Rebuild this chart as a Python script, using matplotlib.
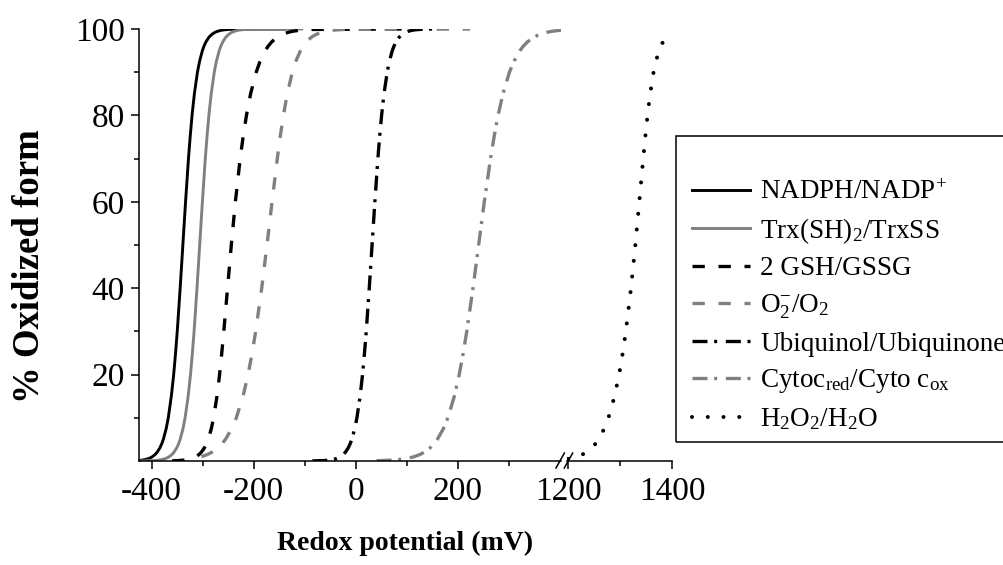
import matplotlib
matplotlib.use("Agg")
import matplotlib.pyplot as plt
from matplotlib.patches import Rectangle
from matplotlib.lines import Line2D

plt.rcParams['font.family'] = ['Liberation Serif', 'DejaVu Serif']
plt.rcParams['mathtext.fontset'] = 'custom'
plt.rcParams['mathtext.rm'] = 'Liberation Serif'
plt.rcParams['mathtext.default'] = 'regular'
plt.rcParams['axes.unicode_minus'] = False

# values: redox potential (mV) vs % oxidized form
nadph_x = [-425, -419.8, -414.5, -407.8, -403.4, -398.7, -393.4, -389.6, -384.2,
           -380.3, -377.3, -371.7, -367.6, -361.6, -357, -353.3, -350, -344.3,
           -339, -333.7, -328, -324.7, -321, -316.4, -310.4, -306.3, -300.7,
           -297.7, -293.8, -288.4, -284.6, -279.3, -274.6, -270.2, -263.5,
           -258.2, -249.2, -233.6, -139]
nadph_y = [0.13, 0.2, 0.3, 0.5, 0.7, 1, 1.5, 2, 3, 4, 5, 7.5, 10, 15, 20, 25, 30,
           40, 50, 60, 70, 75, 80, 85, 90, 92.5, 95, 96, 97, 98, 98.5, 99, 99.3,
           99.5, 99.7, 99.8, 99.9, 99.97, 100]

trx_x = [-425, -395.8, -386.8, -381.5, -374.8, -370.4, -365.7, -360.4, -356.6,
         -351.2, -347.3, -344.3, -338.7, -334.6, -328.6, -324, -320.3, -317,
         -311.3, -306, -300.7, -295, -291.7, -288, -283.4, -277.4, -273.3,
         -267.7, -264.7, -260.8, -255.4, -251.6, -246.3, -241.6, -237.2, -230.5,
         -225.2, -216.2, -200.6, -106]
trx_y = [0.01, 0.1, 0.2, 0.3, 0.5, 0.7, 1, 1.5, 2, 3, 4, 5, 7.5, 10, 15, 20, 25,
         30, 40, 50, 60, 70, 75, 80, 85, 90, 92.5, 95, 96, 97, 98, 98.5, 99,
         99.3, 99.5, 99.7, 99.8, 99.9, 99.97, 100]

gsh_x = [-360, -347.6, -337.2, -331.1, -323.6, -318.6, -313.3, -307.3, -303,
         -297, -292.7, -289.3, -283.2, -278.7, -272.1, -267, -262.7, -258.7,
         -251.4, -244, -236, -226.6, -220.9, -214.3, -206.2, -195.2, -187.7,
         -177.5, -171.9, -164.9, -155.1, -148.2, -138.7, -130.3, -122.5, -110.6,
         -101.2, -85.1, 90]
gsh_y = [0.04, 0.1, 0.2, 0.3, 0.5, 0.7, 1, 1.5, 2, 3, 4, 5, 7.5, 10, 15, 20, 25,
         30, 40, 50, 60, 70, 75, 80, 85, 90, 92.5, 95, 96, 97, 98, 98.5, 99,
         99.3, 99.5, 99.7, 99.8, 99.9, 100]

o2_x = [-302.4, -290.8, -282.5, -270.7, -262.2, -255.5, -243.2, -234.2, -221,
        -211.1, -203.1, -196.2, -184.4, -174, -164.1, -153.8, -148.2, -141.8,
        -134.3, -124.3, -117.6, -108.3, -103.3, -96.9, -87.9, -81.6, -72.6,
        -64.8, -57.4, -46.2, -37.3, -22, 224]
o2_y = [1, 1.5, 2, 3, 4, 5, 7.5, 10, 15, 20, 25, 30, 40, 50, 60, 70, 75, 80, 85,
        90, 92.5, 95, 96, 97, 98, 98.5, 99, 99.3, 99.5, 99.7, 99.8, 99.9, 100]

ubi_x = [-85, -61.2, -51.9, -46.4, -39.5, -34.9, -30, -24.5, -20.5, -14.9, -10.9,
         -7.7, -1.9, 2.3, 8.6, 13.3, 17.2, 20.6, 26.5, 32, 37.5, 43.4, 46.8,
         50.7, 55.4, 61.7, 65.9, 71.7, 74.9, 78.9, 84.5, 88.5, 94, 98.9, 103.5,
         110.4, 115.9, 125.2, 141.5, 160]
ubi_y = [0.02, 0.1, 0.2, 0.3, 0.5, 0.7, 1, 1.5, 2, 3, 4, 5, 7.5, 10, 15, 20, 25,
         30, 40, 50, 60, 70, 75, 80, 85, 90, 92.5, 95, 96, 97, 98, 98.5, 99,
         99.3, 99.5, 99.7, 99.8, 99.9, 99.97, 100]

cyt_x = [41, 51.1, 70.1, 81.3, 95.4, 104.7, 114.6, 125.9, 134, 145.4, 153.6, 160,
         171.9, 180.6, 193.3, 202.9, 210.8, 217.7, 229.9, 241, 252.1, 264.3,
         271.2, 279.1, 288.7, 301.4, 310.1, 322, 328.4, 336.6, 348, 356.1,
         367.4, 377.3, 386.6, 400.7, 410]
cyt_y = [0.07, 0.1, 0.2, 0.3, 0.5, 0.7, 1, 1.5, 2, 3, 4, 5, 7.5, 10, 15, 20, 25,
         30, 40, 50, 60, 70, 75, 80, 85, 90, 92.5, 95, 96, 97, 98, 98.5, 99,
         99.3, 99.5, 99.7, 99.79]

h2o2_x = [1200, 1217.4, 1227.6, 1234.9, 1245.4, 1252.8, 1258.8, 1269.7, 1277.8,
          1289.5, 1298.2, 1305.2, 1311.2, 1321.1, 1329.5, 1337.1, 1344.6, 1348.6,
          1352.9, 1358, 1364.5, 1369, 1375.1, 1378.4, 1382.6, 1388.6, 1392.9,
          1398.9, 1400]
h2o2_y = [0.5, 1, 1.5, 2, 3, 4, 5, 7.5, 10, 15, 20, 25, 30, 40, 50, 60, 70, 75,
          80, 85, 90, 92.5, 95, 96, 97, 98, 98.5, 99, 99.1]

labels = ['NADPH/NADP$^{+}$', 'Trx(SH)$_{2}$/TrxSS', '2 GSH/GSSG',
          'O$_{2}^{-}$/O$_{2}$', 'Ubiquinol/Ubiquinone',
          'Cytoc$_{red}$/Cyto c$_{ox}$', 'H$_{2}$O$_{2}$/H$_{2}$O']

yticks = [20, 40, 60, 80, 100]
xticks_left = [-400, -200, 0, 200]
xticks_right = [1200, 1400]

W, H = 1004, 565
gray = '#808080'

fig = plt.figure(figsize=(W / 100, H / 100), dpi=100)
ax1 = fig.add_axes([139 / W, 104 / H, 422 / W, 432 / H])
ax2 = fig.add_axes([567 / W, 104 / H, 105 / W, 432 / H], sharey=ax1)

dash = (0, (3.7, 4.1))
dashdot = (0, (4.5, 2.0, 0.9, 2.6))

handles = []
handles += ax1.plot(nadph_x, nadph_y, color='black', lw=2.1)
handles += ax1.plot(trx_x, trx_y, color=gray, lw=2.1)
handles += ax1.plot(gsh_x, gsh_y, color='black', lw=2.4, linestyle=dash)
handles += ax1.plot(o2_x, o2_y, color=gray, lw=2.4, linestyle=dash)
handles += ax1.plot(ubi_x, ubi_y, color='black', lw=2.4, linestyle=dashdot)
handles += ax1.plot(cyt_x, cyt_y, color=gray, lw=2.4, linestyle=dashdot)
handles += ax2.plot(h2o2_x, h2o2_y, color='black', lw=2.9,
                    linestyle=(0, (0.01, 3.9)), dash_capstyle='round')

ax1.set_xlim(-425, 402.5)
ax2.set_xlim(1198, 1400)
ax1.set_ylim(0, 100)

ax1.set_xticks(xticks_left)
ax1.set_xticks([-300, -100, 100, 300], minor=True)
ax2.set_xticks(xticks_right)
ax2.set_xticks([1300], minor=True)
ax1.set_yticks(yticks)
ax1.set_yticks([10, 30, 50, 70, 90], minor=True)

for ax in (ax1, ax2):
    ax.spines['top'].set_visible(False)
    ax.spines['right'].set_visible(False)
    ax.spines['bottom'].set_linewidth(1.1)
    ax.spines['left'].set_linewidth(1.1)
    ax.tick_params(which='major', direction='out', length=5.8, width=1.1,
                   labelsize=24, pad=5.5)
    ax.tick_params(which='minor', direction='out', length=3.6, width=1.1)
ax1.tick_params(axis='y', pad=4.5)
ax2.spines['left'].set_visible(False)
ax2.tick_params(axis='y', which='both', left=False, labelleft=False)

# axis break marks
for x0 in (556, 564.3):
    fig.add_artist(Line2D([x0 / W, (x0 + 8.4) / W], [97 / H, 112 / H],
                          transform=fig.transFigure, color='black', lw=1.1))

fig.text(30 / W, 1 - 266 / H, '% Oxidized form', rotation=90, fontsize=26.5,
         fontweight='bold', ha='center', va='center')
fig.text(405 / W, 1 - 543 / H, 'Redox potential (mV)', fontsize=20,
         fontweight='bold', ha='center', va='center')

fig.add_artist(Rectangle((676 / W, 1 - 442 / H), 340 / W, 306 / H,
                         transform=fig.transFigure, fill=False,
                         ec='black', lw=1.1))
fig.legend(handles, labels, loc='upper left',
           bbox_to_anchor=(692 / W, 1 - 180 / H), frameon=False, fontsize=19.5,
           handlelength=2.15, handletextpad=0.37, labelspacing=0.4,
           borderpad=0, borderaxespad=0)

fig.savefig('out.png', dpi=100)
